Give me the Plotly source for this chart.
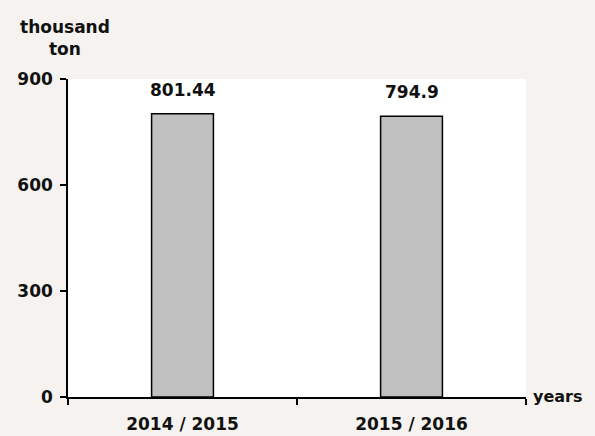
import plotly.graph_objects as go

categories = ["2014 / 2015", "2015 / 2016"]
values = [801.44, 794.9]
value_labels = ["801.44", "794.9"]
y_ticks = [0, 300, 600, 900]

FONT = "DejaVu Sans"
TXT = "#111111"

fig = go.Figure()
fig.add_trace(go.Bar(
    x=categories, y=values, width=0.27,
    marker=dict(color="#c0c0c0", line=dict(color="black", width=1.5)),
    hoverinfo="skip",
))
for c, v, t in zip(categories, values, value_labels):
    fig.add_annotation(x=c, y=v, text=t, showarrow=False, yanchor="bottom", yshift=12,
                       font=dict(family=FONT, size=17, color=TXT, weight="bold"))

fig.add_annotation(xref="paper", yref="paper", x=1.0, y=0, xanchor="left", yanchor="middle",
                   xshift=5, yshift=1, text="years", showarrow=False,
                   font=dict(family=FONT, size=16, color=TXT, weight="bold"))
fig.add_annotation(xref="paper", yref="paper", x=0, y=1.0, xanchor="center", yanchor="bottom",
                   xshift=-3, yshift=18, text="thousand<br>ton", showarrow=False,
                   font=dict(family=FONT, size=17, color=TXT, weight="bold"))

fig.update_layout(
    width=595, height=436,
    margin=dict(l=68, r=69, t=79, b=39, autoexpand=False),
    paper_bgcolor="#f6f2ef", plot_bgcolor="white",
    showlegend=False,
    font=dict(family=FONT, color=TXT),
)
fig.update_xaxes(
    type="category", range=[-0.5, 1.5], tickson="boundaries",
    ticks="outside", ticklen=6, tickcolor="black", tickwidth=1.5,
    showline=True, linecolor="black", linewidth=1.5,
    showgrid=False, ticklabelstandoff=11, automargin=False,
    tickfont=dict(family=FONT, size=17, color=TXT, weight="bold"),
)
fig.update_yaxes(
    range=[0, 900], tickvals=y_ticks, ticks="outside", ticklen=6, tickcolor="black", tickwidth=1.5,
    showline=True, linecolor="black", linewidth=1.5, showgrid=False, zeroline=False,
    ticklabelstandoff=4, automargin=False,
    tickfont=dict(family=FONT, size=17, color=TXT, weight="bold"),
)
fig.write_html(
    "out.html",
    config={"displayModeBar": False},
    post_script="document.body.style.margin='0';document.body.style.overflow='hidden';",
)
